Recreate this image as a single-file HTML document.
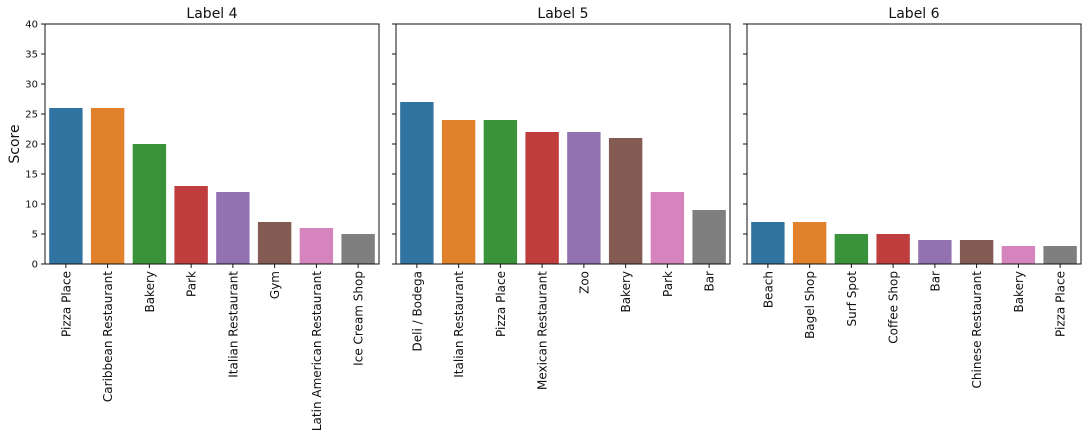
<!DOCTYPE html>
<html><head><meta charset="utf-8"><style>
body{margin:0;background:#fff;}
svg{display:block;font-family:"DejaVu Sans","Liberation Sans",sans-serif;}
</style></head><body>
<svg id="chart" width="1088" height="440"></svg>
<script>
const titles = ["Label 4","Label 5","Label 6"];
const cats4 = ["Pizza Place","Caribbean Restaurant","Bakery","Park","Italian Restaurant","Gym","Latin American Restaurant","Ice Cream Shop"];
const vals4 = [26,26,20,13,12,7,6,5];
const cats5 = ["Deli / Bodega","Italian Restaurant","Pizza Place","Mexican Restaurant","Zoo","Bakery","Park","Bar"];
const vals5 = [27,24,24,22,22,21,12,9];
const cats6 = ["Beach","Bagel Shop","Surf Spot","Coffee Shop","Bar","Chinese Restaurant","Bakery","Pizza Place"];
const vals6 = [7,7,5,5,4,4,3,3];
const yTicks = [0,5,10,15,20,25,30,35,40];
const colors = ["#3274a1","#e1812c","#3a923a","#c03d3e","#9372b2","#845b53","#d684bd","#7f7f7f"];

const svgEl = document.getElementById('chart');
const NS = "http://www.w3.org/2000/svg";
function mk(tag, attrs, parent){const e=document.createElementNS(NS,tag);for(const k in attrs)e.setAttribute(k,attrs[k]);(parent||svgEl).appendChild(e);return e;}
const panels = [[cats4,vals4],[cats5,vals5],[cats6,vals6]];
const lefts = [45,396,747], plotW=334, plotTop=24, plotBottom=264, yMax=40;
const yScale = v => plotBottom - v/yMax*(plotBottom-plotTop);

const yl = mk('text',{x:0,y:0,transform:'translate(19,144) rotate(-90)','text-anchor':'middle','font-size':14,fill:'#111'});
yl.textContent='Score';



panels.forEach((p,pi)=>{
  const cats=p[0], vals=p[1], L=lefts[pi];
  const g = mk('g',{});
  
  
  const step = plotW/cats.length, bw = step*0.8;
  vals.forEach((v,i)=>{
    const x = L + step*i + step*0.1;
    const r = mk('rect',{x:x,y:yScale(v),width:bw,height:plotBottom-yScale(v),fill:colors[i]},g);
    
    
    const cx = L + step*(i+0.5);
    mk('line',{x1:cx,x2:cx,y1:plotBottom,y2:plotBottom+4,stroke:'#111','stroke-width':1},g);
    const t = mk('text',{x:0,y:0,transform:`translate(${cx+4.5},${plotBottom+7}) rotate(-90)`,'text-anchor':'end','font-size':12,fill:'#111'},g);
    t.textContent=cats[i];
    
    
  });
  yTicks.forEach(v=>{
    const y=yScale(v);
    mk('line',{x1:L-4,x2:L,y1:y,y2:y,stroke:'#111','stroke-width':1},g);
    if(pi===0){
      const t=mk('text',{x:L-7,y:y+3.5,'text-anchor':'end','font-size':10,fill:'#111'},g);
      t.textContent=v;
      
      
    }
  });
  mk('rect',{x:L,y:plotTop,width:plotW,height:plotBottom-plotTop,fill:'none',stroke:'#111','stroke-width':1},g);
  const tt=mk('text',{x:L+plotW/2,y:plotTop-6,'text-anchor':'middle','font-size':14,fill:'#111'},g);
  tt.textContent=titles[pi];
  
  
});
</script>
</body></html>
